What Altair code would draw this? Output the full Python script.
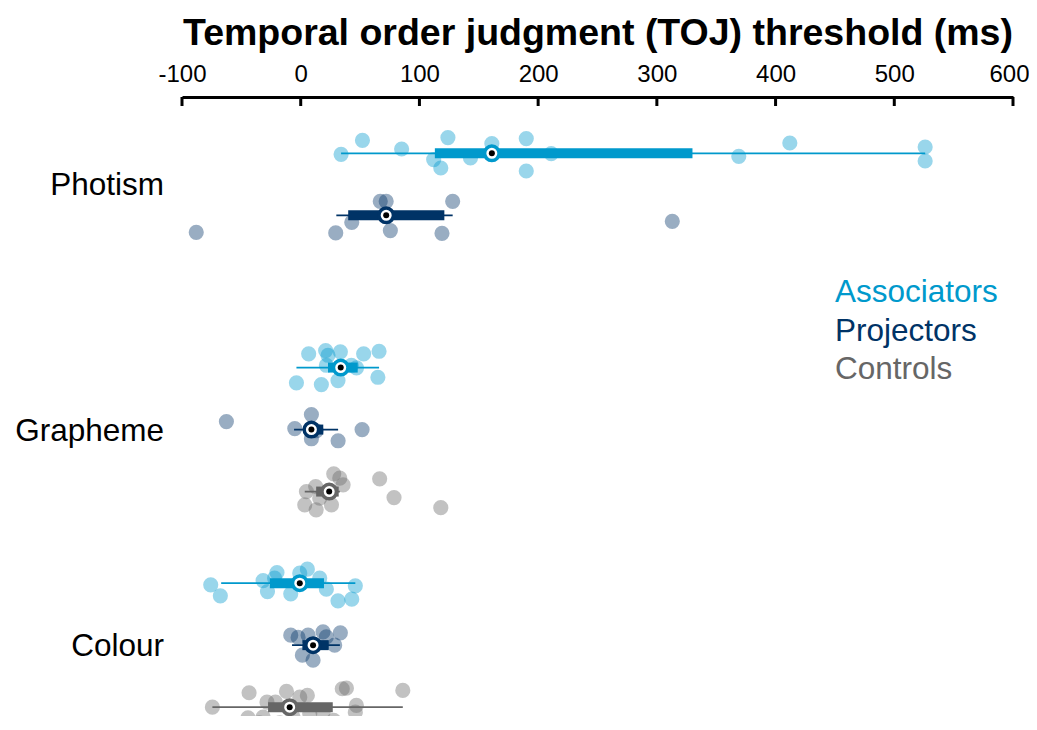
import altair as alt
import pandas as pd

# ---------------- data ----------------
conditions = ["Photism", "Grapheme", "Colour"]
groups = ["Associators", "Projectors", "Controls"]
group_colors = ["#0099CC", "#003366", "#666666"]

# rows (top to bottom): condition, group
row_condition = ["Photism", "Photism", "Grapheme", "Grapheme", "Grapheme", "Colour", "Colour", "Colour"]
row_group = ["Associators", "Projectors", "Associators", "Projectors", "Controls", "Associators", "Projectors", "Controls"]

# individual thresholds (ms) and their vertical jitter (px) per row
vals = [
    [34, 52, 85, 112, 118, 124, 143, 161, 190, 190, 211, 369, 412, 526, 526],
    [-88, 29.5, 43, 67, 72, 75.5, 128, 119, 313],
    [6.7, 21, 23, 33.4, 53, 66, -3.6, 17.4, 31.4, 65, 47, 42.7, 21.6],
    [-62.6, -5, 9, 9, 13, 31.5, 51.7],
    [27.8, 32.9, 35.7, 4.8, 12.6, 3.4, 13, 25.9, 16, 66.5, 78.6, 118],
    [-75.8, -67.7, -31.7, -20, -22, -28, -8.4, -0.8, 5.6, 16, 21.6, 46, 31.4, 43],
    [-8.4, -2.2, 6.2, 18.8, 33.4, 21.6, 28.6, 1.4, 10.4, 10.4],
    [-74.4, -43.5, -44.4, -35, -31.7, -28.4, -21.3, -17.7, -12, -6.5, -0.8, 5.6, 7.6,
     18.8, 27.8, 35, 38.5, 46.9, 46, 86],
]
jitter = [
    [1, -13, -4.3, 6.3, 14.7, -15.7, 4.7, -9.7, -14.7, 17.7, 0.3, 3, -10.3, -6.3, 7.7],
    [17, 17.6, 7, -14, -14, 15.3, -14, 18, 6],
    [-13.7, -17, -12.3, -15.7, -13.7, -16.3, 15.3, 17, 13, 9.7, 0.3, -2.3, -2.3],
    [-8, -1, -15, 9.2, 1.2, 11.2, 0],
    [-17.7, -13.4, -6.7, 0, -5, 13.3, 18.3, 13.3, 6.6, -12.7, 6, 16],
    [1.7, 12.7, -2.6, -10.6, -5, 8.4, 10.7, -10, -14, -5, 6, 2.7, 17.7, 16],
    [-10, -7.7, -10, -13.3, -12.3, -8.3, 0, 10, 15, 0],
    [0, -14.4, 10.6, 15.6, 10, -5, -5, 15.6, -15.7, 10, -10, -11.7, 6, 5, 13.3,
     -18.4, -19, -1.7, 5, -16.7],
]

# summary per row: whisker low/high, quartiles, median
whisk_lo = [34, 30, -3.6, -5.6, 3.4, -67, -7.3, -74.4]
q1 = [113, 40, 23, 5, 13, -26, 1.4, -27.5]
median = [161, 72, 33.7, 9, 24, -0.8, 10.4, -9.3]
q3 = [330, 121, 48, 19, 32, 19.6, 23.6, 27]
whisk_hi = [526, 128, 66, 31.5, 33, 46, 33, 86]

tick_values = [-100, 0, 100, 200, 300, 400, 500, 600]

# ---------------- layout ----------------
ROW_PX = 62.0
gap_before = {"Photism": 0.0, "Grapheme": 1.456, "Colour": 0.477}
row_pos = []
pos = -1.0
prev = None
for c in row_condition:
    pos += 1.0
    if c != prev:
        pos += gap_before[c] if prev is not None else 0.0
        if prev is None:
            pos = 0.0
    prev = c
    row_pos.append(pos)

PLOT_W, PLOT_H = 831, 619
TOP_OFFSET = 0.908  # rows between axis line and first row
ydom = [-TOP_OFFSET, -TOP_OFFSET + PLOT_H / ROW_PX]

pts = []
for i, (vs, js) in enumerate(zip(vals, jitter)):
    for v, j in zip(vs, js):
        pts.append({"value": v, "ypos": row_pos[i] + j / ROW_PX, "group": row_group[i]})
pts = pd.DataFrame(pts)

stats = pd.DataFrame({
    "group": row_group, "ypos": row_pos, "lo": whisk_lo, "q1": q1,
    "med": median, "q3": q3, "hi": whisk_hi,
})

cond_df = pd.DataFrame({
    "cond": conditions,
    "ypos": [sum(p for p, c in zip(row_pos, row_condition) if c == k) /
             sum(1 for c in row_condition if c == k) for k in conditions],
})

FONT = "Liberation Sans"
xaxis = alt.Axis(
    orient="top", values=tick_values, ticks=False, tickSize=0, grid=False,
    domain=True, domainColor="black", domainWidth=3,
    labelFontSize=24, labelColor="black", labelPadding=11, labelFont=FONT,
    labelExpr="datum.value < 0 ? '-' + abs(datum.value) : '' + datum.value",
    labelOffset=alt.condition("datum.value == 600", alt.value(-4), alt.value(0)),
    title="Temporal order judgment (TOJ) threshold (ms)", titleFontSize=37.5,
    titleFontWeight="bold", titleColor="black", titlePadding=10, titleFont=FONT,
    labelFlush=False,
)
xscale = alt.Scale(domain=[-100, 600], nice=False, zero=False)


def X(f):
    return alt.X(f"{f}:Q", scale=xscale, axis=xaxis)


Y = alt.Y("ypos:Q", scale=alt.Scale(domain=ydom, reverse=True, nice=False, zero=False), axis=None)
color_scale = alt.Scale(domain=groups, range=group_colors)
C = alt.Color("group:N", scale=color_scale, legend=None)

points = alt.Chart(pts).mark_circle(size=230, opacity=0.4).encode(x=X("value"), y=Y, color=C)
whisk = alt.Chart(stats).mark_rule(strokeWidth=1.8).encode(x=X("lo"), x2="hi", y=Y, color=C)
box = alt.Chart(stats).mark_rule(strokeWidth=10, strokeCap="butt").encode(x=X("q1"), x2="q3", y=Y, color=C)
ring = alt.Chart(stats).mark_circle(size=210, fill="white", strokeWidth=3.5, opacity=1, fillOpacity=1).encode(
    x=X("med"), y=Y, stroke=alt.Stroke("group:N", scale=color_scale, legend=None))
dot = alt.Chart(stats).mark_circle(size=36, color="black", opacity=1).encode(x=X("med"), y=Y)

ticks = alt.Chart(pd.DataFrame({"tick": tick_values})).mark_rule(
    color="black", strokeWidth=3).encode(x=X("tick"), y=alt.value(0), y2=alt.value(9))

row_labels = alt.Chart(cond_df).mark_text(
    align="right", baseline="middle", fontSize=31.5, font=FONT, color="black", dy=2
).encode(x=alt.value(-18), y=Y, text="cond:N")

LEG_X, LEG_TOP, LEG_STEP = 653, 196, 38.5
leg_df = pd.DataFrame({"group": groups, "ly": [LEG_TOP + k * LEG_STEP for k in range(len(groups))]})
legend = alt.Chart(leg_df).mark_text(
    align="left", baseline="middle", fontSize=31.5, font=FONT
).encode(x=alt.value(LEG_X), y=alt.Y("ly:Q", scale=None, axis=None), text="group:N", color=C)

chart = alt.layer(points, whisk, box, ring, dot, ticks, row_labels, legend).properties(
    width=PLOT_W, height=PLOT_H,
    autosize=alt.AutoSizeParams(type="none"),
    padding={"left": 174, "top": 89, "right": 16, "bottom": 0},
).configure(font=FONT).configure_view(stroke=None)

chart.save("out.html", embed_options={"renderer": "svg", "actions": False})
